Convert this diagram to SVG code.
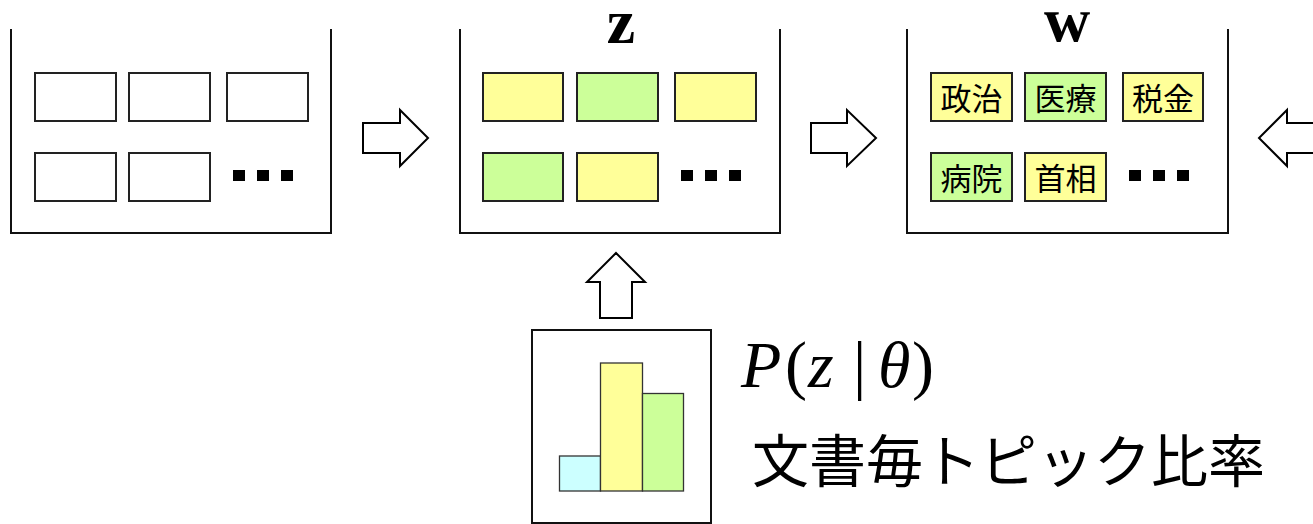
<svg xmlns="http://www.w3.org/2000/svg" width="1313" height="524" viewBox="0 0 1313 524">
<defs>
<style>
.cont{fill:none;stroke:#111;stroke-width:2}
.box{stroke:#222;stroke-width:2}
.w{fill:#fff}
.y{fill:#ffff99}
.g{fill:#ccff99}
.c{fill:#ccffff}
.dot{fill:#000}
.arrow{fill:#fff;stroke:#000;stroke-width:2;stroke-linejoin:miter}
.bar{stroke:#333;stroke-width:1.3}
.var{font-family:"Liberation Serif","Times New Roman",serif;font-weight:bold;font-size:64px;text-anchor:middle;fill:#000}
.word{font-family:"Noto Sans CJK JP","Noto Sans CJK SC",sans-serif;font-size:31px;text-anchor:middle;fill:#000}
.math{font-family:"Liberation Serif","Times New Roman",serif;font-size:66px;fill:#000}
.jp{font-family:"Noto Sans CJK JP","Noto Sans CJK SC",sans-serif;font-size:57px;fill:#000}
</style>
</defs>
<rect width="1313" height="524" fill="#fff"/>

<g id="documents">
<path class="cont" d="M11,29 V233 H331 V29"/>
<rect class="box w" x="35" y="73" width="81" height="48"/>
<rect class="box w" x="129" y="73" width="81" height="48"/>
<rect class="box w" x="227" y="73" width="81" height="48"/>
<rect class="box w" x="35" y="153" width="81" height="48"/>
<rect class="box w" x="129" y="153" width="81" height="48"/>
<rect class="dot" x="233" y="170" width="12" height="11"/>
<rect class="dot" x="257" y="170" width="12" height="11"/>
<rect class="dot" x="281" y="170" width="12" height="11"/>
</g>

<g id="topics-z">
<text class="var" x="621" y="43">z</text>
<path class="cont" d="M460,29 V233 H780 V29"/>
<rect class="box y" x="483" y="73" width="80" height="48"/>
<rect class="box g" x="577" y="73" width="81" height="48"/>
<rect class="box y" x="675" y="73" width="81" height="48"/>
<rect class="box g" x="483" y="153" width="80" height="48"/>
<rect class="box y" x="577" y="153" width="81" height="48"/>
<rect class="dot" x="681" y="170" width="12" height="11"/>
<rect class="dot" x="705" y="170" width="12" height="11"/>
<rect class="dot" x="729" y="170" width="12" height="11"/>
</g>

<g id="words-w">
<text class="var" x="1067" y="41">w</text>
<path class="cont" d="M907,29 V233 H1228 V29"/>
<rect class="box y" x="931" y="73" width="81" height="48"/>
<rect class="box g" x="1025" y="73" width="81" height="48"/>
<rect class="box y" x="1123" y="73" width="80" height="48"/>
<rect class="box g" x="931" y="153" width="81" height="48"/>
<rect class="box y" x="1025" y="153" width="81" height="48"/>
<text class="word" x="971.5" y="110">政治</text>
<text class="word" x="1065.5" y="110">医療</text>
<text class="word" x="1163" y="110">税金</text>
<text class="word" x="971.5" y="190">病院</text>
<text class="word" x="1065.5" y="190">首相</text>
<rect class="dot" x="1129" y="170" width="12" height="11"/>
<rect class="dot" x="1153" y="170" width="12" height="11"/>
<rect class="dot" x="1177" y="170" width="12" height="11"/>
</g>

<g id="theta">
<rect x="532" y="330" width="179" height="193" fill="#fff" stroke="#111" stroke-width="2"/>
<rect class="bar c" x="559.5" y="456" width="41" height="35"/>
<rect class="bar y" x="600.5" y="363" width="42" height="128"/>
<rect class="bar g" x="642.5" y="393.5" width="41" height="97.5"/>
<text class="math" y="387"><tspan x="741" font-style="italic">P</tspan><tspan x="785">(</tspan><tspan x="808" font-style="italic">z</tspan><tspan x="853">|</tspan><tspan x="878" font-style="italic">θ</tspan><tspan x="912">)</tspan></text>
<text class="jp" x="752" y="482">文書毎トピック比率</text>
</g>

<g id="connectors">
<polygon class="arrow" points="363,123 400,123 400,110 428,138 400,166 400,153 363,153"/>
<polygon class="arrow" points="811,123 847,123 847,110 876,138 847,166 847,153 811,153"/>
<polygon class="arrow" points="1325,123 1287,123 1287,110 1259,138 1287,166 1287,153 1325,153"/>
<polygon class="arrow" points="616,253 645,282 632,282 632,318 600,318 600,282 587,282"/>
</g>
</svg>
